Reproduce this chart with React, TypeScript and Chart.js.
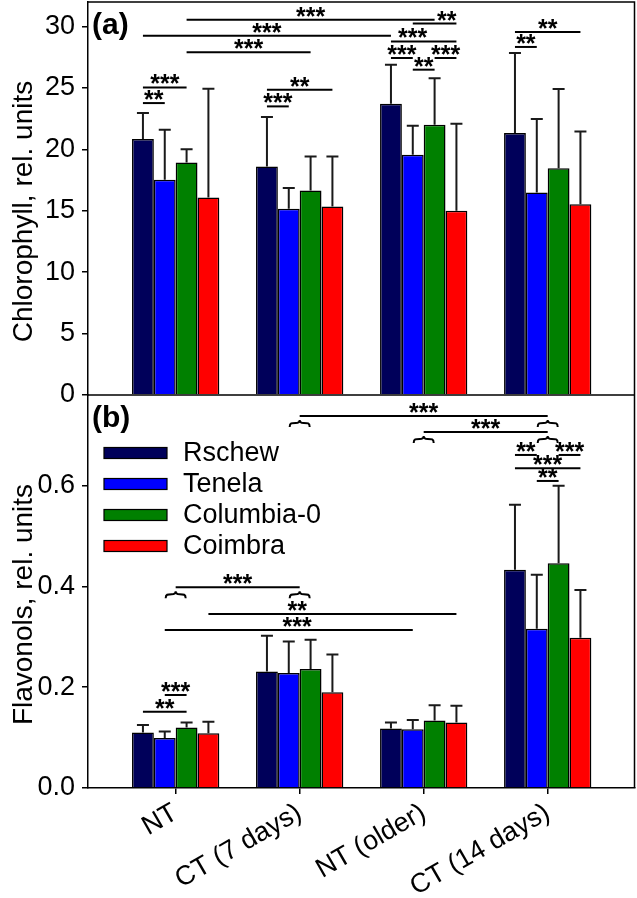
import React, { useEffect, useRef } from 'react';
import { Chart, registerables } from 'chart.js';

Chart.register(...registerables);

const FONT = "'Liberation Sans', Arial, Helvetica, sans-serif";

// ---------- data ----------
const categories = ['NT', 'CT (7 days)', 'NT (older)', 'CT (14 days)'];
const accessions = ['Rschew', 'Tenela', 'Columbia-0', 'Coimbra'];
const colors = ['#00005a', '#0000ff', '#008000', '#ff0000'];

// (a) Chlorophyll, rel. units
const chlRschew = [20.84, 18.6, 23.72, 21.33];
const chlTenela = [17.52, 15.16, 19.56, 16.49];
const chlColumbia = [18.93, 16.65, 22.0, 18.47];
const chlCoimbra = [16.08, 15.35, 15.0, 15.54];
const chlSdRschew = [2.12, 4.03, 3.18, 6.52];
const chlSdTenela = [4.08, 1.69, 2.36, 5.98];
const chlSdColumbia = [1.09, 2.77, 3.8, 6.44];
const chlSdCoimbra = [8.86, 4.07, 7.09, 5.92];

// (b) Flavonols, rel. units
const flavRschew = [0.11, 0.231, 0.118, 0.433];
const flavTenela = [0.099, 0.228, 0.1165, 0.316];
const flavColumbia = [0.12, 0.236, 0.134, 0.446];
const flavCoimbra = [0.1085, 0.19, 0.13, 0.298];
const flavSdRschew = [0.015, 0.071, 0.012, 0.129];
const flavSdTenela = [0.013, 0.063, 0.0185, 0.107];
const flavSdColumbia = [0.01, 0.058, 0.03, 0.154];
const flavSdCoimbra = [0.023, 0.075, 0.033, 0.095];

const chlTicks = [0, 5, 10, 15, 20, 25, 30];
const flavTicks = [0, 0.2, 0.4, 0.6];

// significance brackets: [fromCategory, fromBar(-1 = pooled group), toCategory, toBar, level, stars, labelAt?]
const chlBrackets: any[] = [
  [0, 2, 2, 2, 30.56, '***'],
  [2, 1, 2, 3, 30.24, '**', 2.185],
  [0, 0, 2, 0, 29.26, '***'],
  [2, 0, 2, 3, 28.79, '***', 1.911],
  [0, 2, 1, 2, 27.9, '***'],
  [2, 0, 2, 1, 27.44, '***'],
  [2, 2, 2, 3, 27.44, '***'],
  [2, 1, 2, 2, 26.49, '**'],
  [0, 0, 0, 2, 25.04, '***'],
  [0, 0, 0, 1, 23.77, '**'],
  [1, 0, 1, 3, 24.86, '**'],
  [1, 0, 1, 1, 23.5, '***'],
  [3, 0, 3, 3, 29.56, '**'],
  [3, 0, 3, 1, 28.34, '**'],
];
const flavBrackets: any[] = [
  [1, -1, 3, -1, 0.7385, '***'],
  [2, -1, 3, -1, 0.7067, '***'],
  [3, 0, 3, 1, 0.661, '**'],
  [3, 2, 3, 3, 0.661, '***'],
  [3, 0, 3, 3, 0.6346, '***'],
  [3, 1, 3, 2, 0.6094, '**'],
  [0, -1, 1, -1, 0.3984, '***'],
  [0, 3, 2, 3, 0.3454, '**', 0.98],
  [0, 1, 2, 1, 0.3136, '***', 0.98],
  [0, 0, 0, 2, 0.1515, '**'],
  [0, 1, 0, 2, 0.1846, '***'],
];

const chlMeans = [chlRschew, chlTenela, chlColumbia, chlCoimbra];
const chlSds = [chlSdRschew, chlSdTenela, chlSdColumbia, chlSdCoimbra];
const flavMeans = [flavRschew, flavTenela, flavColumbia, flavCoimbra];
const flavSds = [flavSdRschew, flavSdTenela, flavSdColumbia, flavSdCoimbra];

const overlay = {
  id: 'overlay',
  afterDatasetsDraw(chart: any) {
    const ctx = chart.ctx;
    ctx.save();
    ctx.strokeStyle = '#1a1a1a';
    ctx.lineWidth = 2;
    chart.data.datasets.forEach((ds: any, d: number) => {
      const meta = chart.getDatasetMeta(d);
      const ys = chart.scales[meta.yAxisID];
      meta.data.forEach((el: any, k: number) => {
        const top = ys.getPixelForValue(ds.data[k].y + ds.sd[k]);
        ctx.beginPath();
        ctx.moveTo(el.x, el.y);
        ctx.lineTo(el.x, top);
        ctx.moveTo(el.x - 6, top);
        ctx.lineTo(el.x + 6, top);
        ctx.stroke();
      });
    });
    ctx.restore();
  },
  afterDraw(chart: any) {
    const { ctx, chartArea: ca, scales } = chart;
    const xs = scales.x;
    const yA = scales.yA;
    const yB = scales.yB;
    ctx.save();
    // frame
    ctx.strokeStyle = '#000';
    ctx.lineWidth = 1.5;
    ctx.beginPath();
    ctx.moveTo(ca.left, ca.top);
    ctx.lineTo(ca.right - 0.5, ca.top);
    ctx.lineTo(ca.right - 0.5, ca.bottom);
    ctx.moveTo(ca.left, yA.bottom);
    ctx.lineTo(ca.right, yA.bottom);
    ctx.stroke();

    const brace = (cx: number, y: number) => {
      const y0 = y + 4;
      ctx.beginPath();
      ctx.moveTo(cx - 10, y0 + 7);
      ctx.bezierCurveTo(cx - 10, y0 + 3, cx - 8, y0 + 3, cx - 4, y0 + 3);
      ctx.bezierCurveTo(cx - 1, y0 + 3, cx, y0 + 2, cx, y0);
      ctx.bezierCurveTo(cx, y0 + 2, cx + 1, y0 + 3, cx + 4, y0 + 3);
      ctx.bezierCurveTo(cx + 8, y0 + 3, cx + 10, y0 + 3, cx + 10, y0 + 7);
      ctx.stroke();
    };

    const drawBrackets = (list: any[], ys: any, off: number) => {
      ctx.strokeStyle = '#000';
      ctx.fillStyle = '#000';
      ctx.lineWidth = 2;
      ctx.font = `bold 25px ${FONT}`;
      ctx.textAlign = 'center';
      ctx.textBaseline = 'alphabetic';
      list.forEach((b) => {
        const [c1, b1, c2, b2, yv, label, lab] = b;
        const px = (c: number, bar: number) =>
          bar < 0 ? xs.getPixelForValue(c) : chart.getDatasetMeta(off + bar).data[c].x;
        const x1 = px(c1, b1);
        const x2 = px(c2, b2);
        const y = ys.getPixelForValue(yv);
        ctx.beginPath();
        ctx.moveTo(x1, y);
        ctx.lineTo(x2, y);
        ctx.stroke();
        if (b1 < 0) brace(x1, y);
        if (b2 < 0) brace(x2, y);
        const lx = lab !== undefined ? xs.getPixelForValue(lab) : (x1 + x2) / 2;
        ctx.fillText(label, lx, y + 5);
      });
    };
    drawBrackets(chlBrackets, yA, 0);
    drawBrackets(flavBrackets, yB, 4);

    // legend
    ctx.font = `27px ${FONT}`;
    ctx.textAlign = 'left';
    ctx.textBaseline = 'middle';
    accessions.forEach((name, i) => {
      const cy = yB.top + 58 + i * 31;
      ctx.fillStyle = colors[i];
      ctx.fillRect(104, cy - 5.5, 63, 11);
      ctx.strokeStyle = '#000';
      ctx.lineWidth = 1.2;
      ctx.strokeRect(104, cy - 5.5, 63, 11);
      ctx.fillStyle = '#000';
      ctx.fillText(name, 183, cy + 1);
    });

    // panel tags
    ctx.font = `bold 30px ${FONT}`;
    ctx.textBaseline = 'alphabetic';
    ctx.fillText('(a)', 92, yA.top + 32);
    ctx.fillText('(b)', 92, yB.top + 32);

    // axis titles
    ctx.font = `28px ${FONT}`;
    ctx.textAlign = 'center';
    const title = (t: string, cy: number) => {
      ctx.save();
      ctx.translate(32, cy);
      ctx.rotate(-Math.PI / 2);
      ctx.fillText(t, 0, 0);
      ctx.restore();
    };
    title('Chlorophyll, rel. units', (yA.top + yA.bottom) / 2 + 13);
    title('Flavonols, rel. units', (yB.top + yB.bottom) / 2 + 13);
    ctx.restore();
  },
};

const zeroPad = (s: any) => {
  s.paddingTop = 0;
  s.paddingBottom = 0;
  s.paddingLeft = 0;
  s.paddingRight = 0;
};

export default function App() {
  const ref = useRef<HTMLCanvasElement>(null);
  useEffect(() => {
    const canvas = ref.current;
    if (!canvas) return;
    const mk = (means: number[][], sds: number[][], axis: string) =>
      means.map((vals, i) => ({
        label: accessions[i],
        data: vals.map((v, k) => ({ x: k, y: v })),
        sd: sds[i],
        yAxisID: axis,
        xAxisID: 'x',
        stack: 'acc' + i,
        backgroundColor: colors[i],
        borderColor: '#000',
        borderWidth: 1.5,
        borderSkipped: 'start',
        categoryPercentage: 0.704,
        barPercentage: 1,
      }));
    const yCommon = (ticks: number[], max: number, fmt: (v: number) => string) => ({
      type: 'linear',
      position: 'left',
      stack: 'panels',
      stackWeight: 1,
      stacked: false,
      min: 0,
      max,
      afterBuildTicks: (s: any) => {
        s.ticks = ticks.map((v) => ({ value: v }));
      },
      afterFit: (s: any) => {
        s.width = 88;
        zeroPad(s);
      },
      border: { display: true, color: '#000', width: 1.5 },
      grid: { drawOnChartArea: false, drawTicks: true, tickLength: 6, color: '#000', lineWidth: 1.5 },
      ticks: {
        color: '#000',
        font: { size: 27, family: FONT },
        padding: 7,
        callback: (v: any) => fmt(Number(v)),
      },
    });
    const chart = new Chart(canvas, {
      type: 'bar',
      data: { datasets: [...mk(chlMeans, chlSds, 'yA'), ...mk(flavMeans, flavSds, 'yB')] as any },
      options: {
        animation: false,
        responsive: false,
        events: [],
        layout: { padding: { left: 0, right: 2, top: 2, bottom: 0 } },
        plugins: { legend: { display: false }, tooltip: { enabled: false } },
        scales: {
          x: {
            type: 'linear',
            position: 'bottom',
            min: -0.707,
            max: 3.704,
            offset: false,
            afterBuildTicks: (s: any) => {
              s.ticks = categories.map((_, i) => ({ value: i }));
            },
            afterFit: (s: any) => {
              s.height = 110;
              zeroPad(s);
            },
            border: { display: true, color: '#000', width: 1.5 },
            grid: { offset: false, drawOnChartArea: false, drawTicks: true, tickLength: 6, color: '#000', lineWidth: 1.5 },
            ticks: {
              color: '#000',
              font: { size: 27, family: FONT },
              minRotation: 30,
              maxRotation: 30,
              autoSkip: false,
              padding: 3,
              labelOffset: 0,
              callback: (v: any) => categories[Math.round(Number(v))] ?? '',
            },
          },
          yB: yCommon(flavTicks, 0.78, (v) => v.toFixed(1)),
          yA: yCommon(chlTicks, 32, (v) => String(v)),
        } as any,
      },
      plugins: [overlay],
    });
    return () => chart.destroy();
  }, []);
  return (
    <div style={{ position: 'absolute', left: 0, top: 0, width: 637, height: 898, background: '#fff' }}>
      <canvas ref={ref} width={637} height={898} style={{ display: 'block', width: 637, height: 898 }} />
    </div>
  );
}
